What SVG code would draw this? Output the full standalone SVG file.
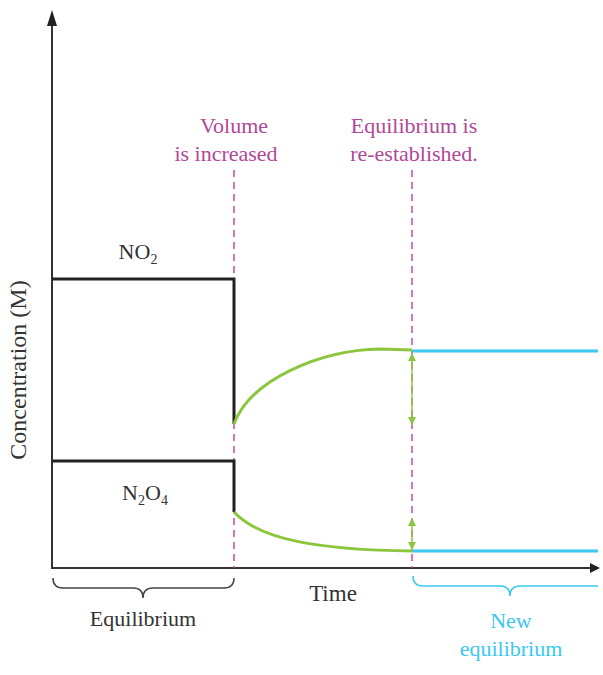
<svg xmlns="http://www.w3.org/2000/svg" width="603" height="675" viewBox="0 0 603 675">
<style>
text{font-family:"Liberation Serif",serif}
.ax{stroke:#333;stroke-width:2;fill:none}
.bk{stroke:#222;stroke-width:3;fill:none}
.gr{stroke:#8cc63f;stroke-width:3;fill:none}
.cy{stroke:#3cc8ef;stroke-width:3;fill:none}
.dash{stroke:#c84ca0;stroke-width:1.5;stroke-dasharray:7,5;fill:none}
.ga{stroke:#8cc63f;stroke-width:1.5;fill:none}
.mg{fill:#b0489a;font-size:22px}
</style>
<defs>
<marker id="gh" viewBox="0 0 10 10" markerWidth="8" markerHeight="10" refX="10" refY="5" orient="auto" markerUnits="userSpaceOnUse"><path d="M0,0 L10,5 L0,10 Z" fill="#8cc63f"/></marker>
</defs>
<g id="axes">
<path class="ax" d="M52,20 V568 H594"/>
<path d="M52,10 L47,26 L57,26 Z" fill="#222"/>
<path d="M600,568 L590,563 L590,573 Z" fill="#222"/>
<text x="26" y="370" font-size="24" text-anchor="middle" transform="rotate(-90 26 370)" fill="#333">Concentration (M)</text>
<text x="333" y="601" font-size="23" text-anchor="middle" fill="#333">Time</text>
</g>
<g id="labels">
<text class="mg" x="234" y="133" text-anchor="middle">Volume</text>
<text class="mg" x="226" y="161" text-anchor="middle">is  increased</text>
<text class="mg" x="414" y="133" text-anchor="middle">Equilibrium is</text>
<text class="mg" x="414" y="161" text-anchor="middle">re-established.</text>
<text x="138" y="259" font-size="22" fill="#333" text-anchor="middle">NO<tspan font-size="14" dy="5">2</tspan></text>
<text x="145" y="500" font-size="22" fill="#333" text-anchor="middle">N<tspan font-size="14" dy="5">2</tspan><tspan dy="-5">O</tspan><tspan font-size="14" dy="5">4</tspan></text>
</g>
<g id="connectors">
<path class="dash" d="M234,170 V568"/>
<path class="dash" d="M412,170 V568"/>
<path class="bk" d="M52,279 H234 V424"/>
<path class="bk" d="M52,461 H234 V512"/>
<path class="gr" d="M234,424 C250,380 320,350 380,349 L412,350"/>
<path class="gr" d="M234,512 C260,540 320,550 412,551"/>
<path class="cy" d="M412,351 H598"/>
<path class="cy" d="M412,551 H598"/>
<path class="ga" d="M412,385 V353" marker-end="url(#gh)"/>
<path class="ga" d="M412,385 V425" marker-end="url(#gh)"/>
<path class="ga" d="M412,535 V518" marker-end="url(#gh)"/>
<path class="ga" d="M412,535 V550" marker-end="url(#gh)"/>
</g>
<g id="braces">
<path d="M53,578 Q53,588 63,588 H133 Q143,588 143,598 Q143,588 153,588 H224 Q234,588 234,578" stroke="#444" stroke-width="1.5" fill="none"/>
<text x="143" y="626" font-size="22" fill="#333" text-anchor="middle">Equilibrium</text>
<path d="M413,576 Q413,586 423,586 H500 Q510,586 510,596 Q510,586 520,586 H598" stroke="#3cc8ef" stroke-width="1.5" fill="none"/>
<text x="511" y="628" font-size="22" fill="#3cc8ef" text-anchor="middle">New</text>
<text x="511" y="656" font-size="22" fill="#3cc8ef" text-anchor="middle">equilibrium</text>
</g>
</svg>
